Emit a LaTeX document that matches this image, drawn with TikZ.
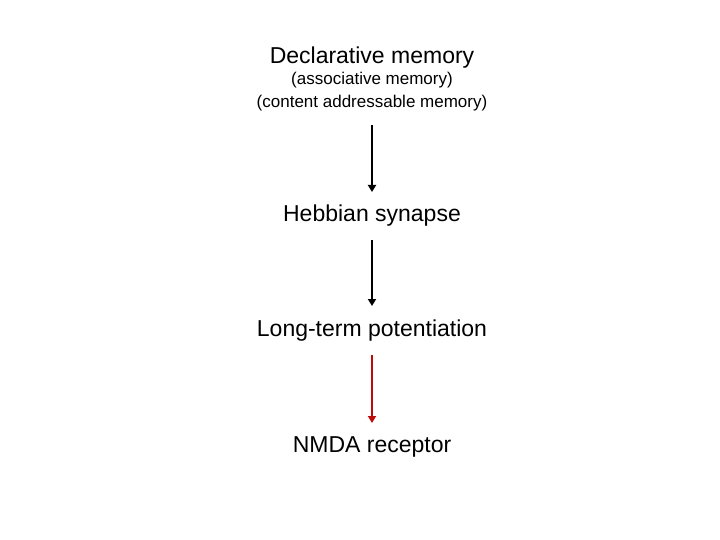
\documentclass[tikz,border=0pt]{standalone}
\usepackage{fontspec}
\setmainfont{Liberation Sans}
\usetikzlibrary{arrows.meta}
\begin{document}
\begin{tikzpicture}[x=1pt,y=-1pt,
  big/.style={font=\fontsize{23}{26}\selectfont},
  small/.style={font=\fontsize{17}{20}\selectfont},
  arr/.style={line width=2.5pt,-{Triangle[length=7pt,width=8pt]}}]
\useasboundingbox (0,0) rectangle (720,540);
\node[big] (d) at (372,58) {Declarative memory};
\node[small] (a) at (372,80) {(associative memory)};
\node[small] (c) at (372,103) {(content addressable memory)};
\node[big] (h) at (372,216) {Hebbian synapse};
\node[big] (l) at (372,331) {Long-term potentiation};
\node[big] (n) at (372,447) {NMDA receptor};
\coordinate (c1) at (372,125); \coordinate (c2) at (372,192);
\coordinate (h1) at (372,240); \coordinate (h2) at (372,306);
\coordinate (l1) at (372,355); \coordinate (l2) at (372,423);
\draw[arr] (c1) -- (c2);
\draw[arr] (h1) -- (h2);
\draw[arr,color={rgb,255:red,190;green,10;blue,10}] (l1) -- (l2);
\end{tikzpicture}
\end{document}
